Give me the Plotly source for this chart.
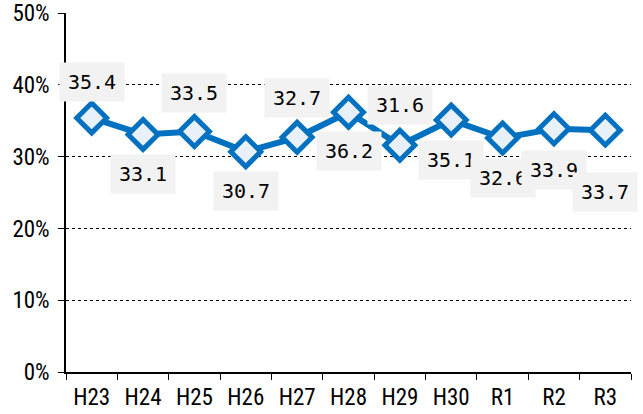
import plotly.graph_objects as go

# data
years = ["H23", "H24", "H25", "H26", "H27", "H28", "H29", "H30", "R1", "R2", "R3"]
rates = [35.4, 33.1, 33.5, 30.7, 32.7, 36.2, 31.6, 35.1, 32.6, 33.9, 33.7]
# pixel offsets of each value label from its point
label_dy = [36, -40, 39, -39, 39, -39, 40, -40, -40, -41, -62]

y_ticks = [0, 10, 20, 30, 40, 50]
y_text = ["0%", "10%", "20%", "30%", "40%", "50%"]

tick_font = dict(family="Roboto Condensed, sans-serif", size=23, color="#000")
label_font = dict(family="DejaVu Sans Mono, monospace", size=20, color="#000")

fig = go.Figure()
fig.add_trace(go.Scatter(
    x=years, y=rates, mode="lines+markers",
    line=dict(color="#0070C0", width=6),
    marker=dict(symbol="diamond", size=23, color="#E8F1FA",
                line=dict(color="#0070C0", width=5)),
    hoverinfo="skip", showlegend=False,
))

for x, v, dy in zip(years, rates, label_dy):
    fig.add_annotation(
        x=x, y=v, text=f"{v:.1f}", showarrow=False, yshift=dy,
        bgcolor="#F2F2F2", width=50, height=24, borderpad=7,
        font=label_font,
    )

fig.update_layout(
    width=643, height=414,
    margin=dict(l=66, r=12, t=13, b=42, autoexpand=False),
    paper_bgcolor="white", plot_bgcolor="white",
    font=tick_font,
)
fig.update_xaxes(
    showline=True, linecolor="#000", linewidth=1.5,
    ticks="outside", tickson="boundaries", ticklen=6, tickcolor="#000",
    ticklabelstandoff=4,
    showgrid=False, range=[-0.5, 10.5], automargin=False,
)
fig.update_yaxes(
    range=[0, 50.02], tickvals=y_ticks, ticktext=y_text,
    showline=True, linecolor="#000", linewidth=1.5,
    ticks="outside", ticklen=6, tickcolor="#000", ticklabelstandoff=4,
    showgrid=True, gridcolor="#000", griddash="dot", gridwidth=1,
    zeroline=False, automargin=False,
)

fig.write_html("out.html", config={"displayModeBar": False},
               post_script="document.body.style.margin='0';")
